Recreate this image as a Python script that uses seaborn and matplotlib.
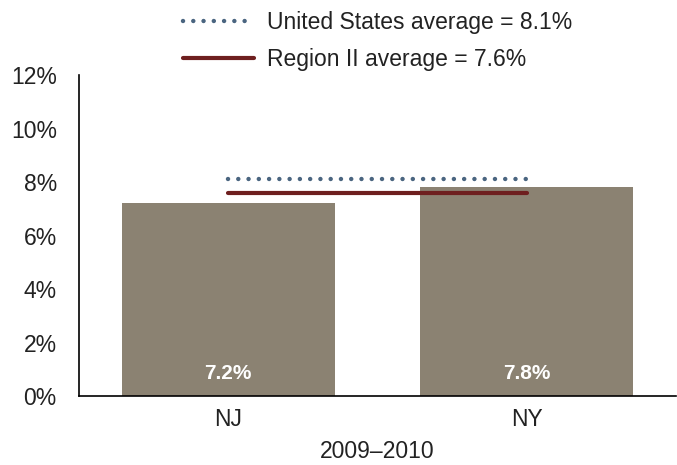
import matplotlib
matplotlib.use("Agg")
import matplotlib.pyplot as plt
import seaborn as sns
import pandas as pd
from matplotlib.ticker import FuncFormatter

states = ["NJ", "NY"]
rates = [7.2, 7.8]
value_labels = ["7.2%", "7.8%"]
us_avg = 8.1
region_avg = 7.6
yticks = [0, 2, 4, 6, 8, 10, 12]
xlabel = "2009–2010"

sns.set_style("white")
plt.rcParams['font.family'] = ['Liberation Sans', 'DejaVu Sans']

fig = plt.figure(figsize=(6.77, 4.65), dpi=100)
ax = fig.add_axes([0.1167, 0.1484, 0.882, 0.690])

df = pd.DataFrame({"state": states, "rate": rates})
sns.barplot(data=df, x="state", y="rate", color="#8b8272", saturation=1,
            width=0.713, ax=ax, edgecolor="none")

ax.plot(states, [us_avg] * len(states), color="#4a6580", linewidth=3.2,
        linestyle=(0, (0.01, 2.3)), dash_capstyle="round",
        label=f"United States average = {us_avg}%")
ax.plot(states, [region_avg] * len(states), color="#6e1f1f", linewidth=3,
        label=f"Region II average = {region_avg}%")

for i, lab in enumerate(value_labels):
    ax.text(i, 0.5, lab, ha="center", va="bottom", color="white",
            fontsize=15, fontweight="bold")

ax.set_xlim(-0.5, 1.5)
ax.set_ylim(0, 12)
ax.set_yticks(yticks)
ax.yaxis.set_major_formatter(FuncFormatter(lambda v, p: f"{v:.0f}%"))
ax.tick_params(axis="y", labelsize=16.5, length=0, colors="#222222", pad=16)
ax.tick_params(axis="x", labelsize=16.5, length=0, colors="#222222", pad=9)
ax.set_xlabel(xlabel, fontsize=16.5, color="#222222", labelpad=6)
ax.set_ylabel("")
for s in ["top", "right"]:
    ax.spines[s].set_visible(False)
for s in ["left", "bottom"]:
    ax.spines[s].set_color("black")
    ax.spines[s].set_linewidth(1.2)

ax.legend(loc="lower center", bbox_to_anchor=(0.5, 0.95), frameon=False,
          fontsize=16.5, handlelength=3.1, labelspacing=0.6, handletextpad=0.6,
          labelcolor="#222222")

fig.savefig("out.png", dpi=100)
